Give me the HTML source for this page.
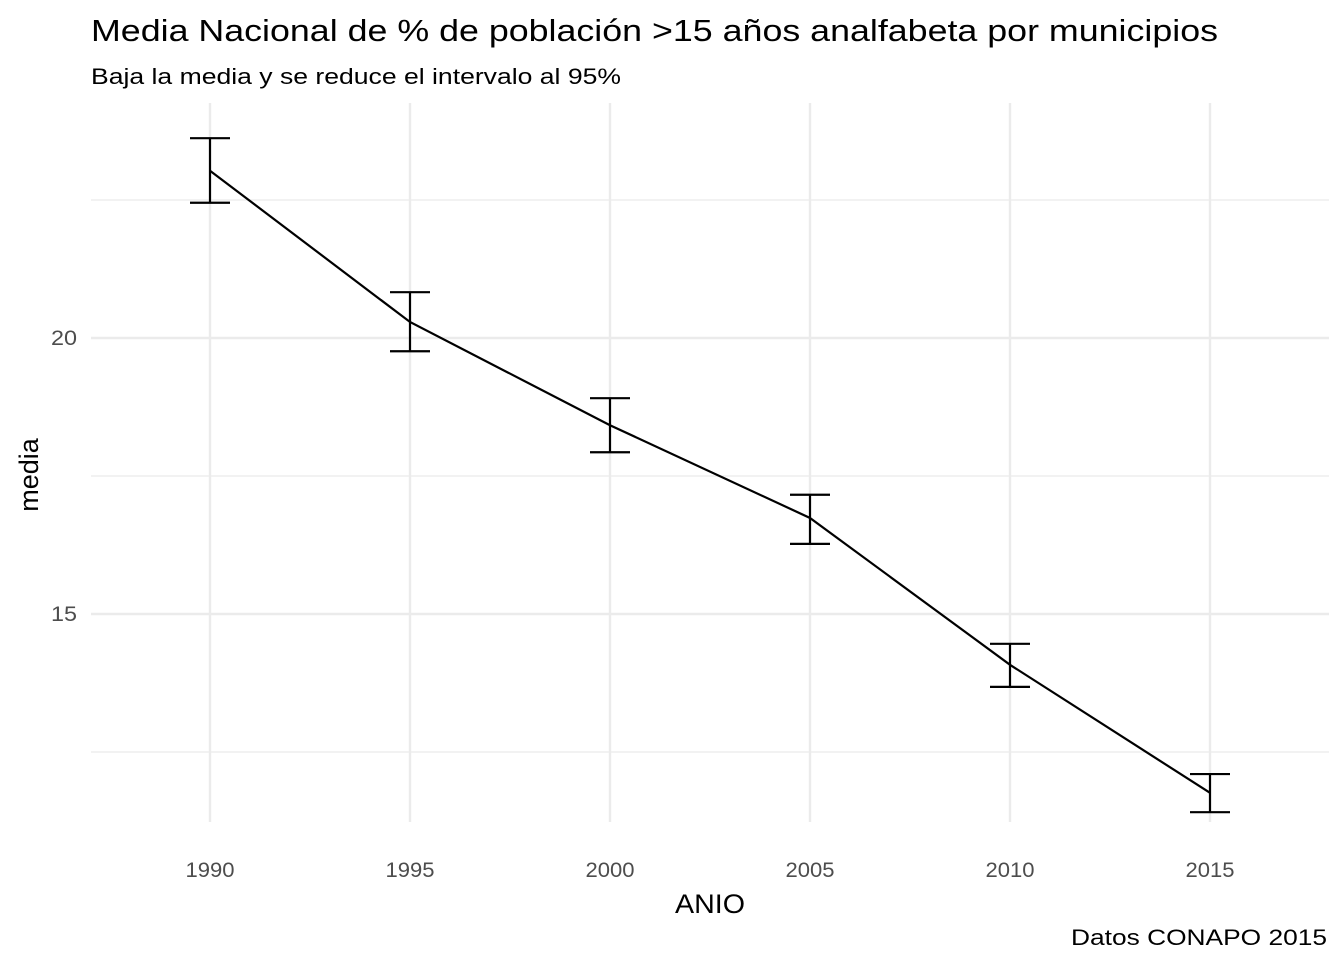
<!DOCTYPE html>
<html><head><meta charset="utf-8">
<style>
body{margin:0;background:#fff;}
svg{display:block;font-family:"Liberation Sans",sans-serif;}
</style></head>
<body>
<svg id="chart" width="1344" height="960">
<text x="91" y="41" font-size="31" textLength="1127" lengthAdjust="spacingAndGlyphs" fill="#000">Media Nacional de % de población &gt;15 años analfabeta por municipios</text>
<text x="91" y="84" font-size="22" textLength="530" lengthAdjust="spacingAndGlyphs" fill="#000">Baja la media y se reduce el intervalo al 95%</text>
<g id="grid"></g>
<g id="marks"></g>
<g id="labels"></g>
<text x="710" y="913" font-size="27" textLength="70" lengthAdjust="spacingAndGlyphs" text-anchor="middle" fill="#000">ANIO</text>
<text transform="translate(38,475) rotate(-90)" font-size="27" text-anchor="middle" fill="#000">media</text>
<text x="1071" y="945" font-size="22" textLength="256" lengthAdjust="spacingAndGlyphs" fill="#000">Datos CONAPO 2015</text>
</svg>
<script>
const years=[1990,1995,2000,2005,2010,2015];
const means=[23.03,20.29,18.42,16.74,14.08,11.76];
const uppers=[23.62,20.83,18.91,17.16,14.46,12.10];
const lowers=[22.45,19.76,17.93,16.27,13.68,11.41];
const yMajor=[15,20];
const yMinor=[12.5,17.5,22.5];

const NS="http://www.w3.org/2000/svg";
const X=v=>210+(v-1990)*40;
const Y=v=>338-(v-20)*55.2;
const L=91,R=1329,T=103,B=822;
function mk(tag,attrs,parent){const e=document.createElementNS(NS,tag);for(const k in attrs)e.setAttribute(k,attrs[k]);document.getElementById(parent).appendChild(e);return e;}

yMinor.forEach(v=>{
  const e=mk('line',{x1:L,x2:R,y1:Y(v),y2:Y(v),stroke:'#ebebeb','stroke-width':1.2},'grid');
  
  
});
yMajor.forEach(v=>{
  const e=mk('line',{x1:L,x2:R,y1:Y(v),y2:Y(v),stroke:'#ebebeb','stroke-width':2.4},'grid');
  
  
  const t=mk('text',{x:77,y:Y(v)+7,'font-size':21,fill:'#4d4d4d','text-anchor':'end',textLength:26,lengthAdjust:'spacingAndGlyphs'},'labels');
  t.textContent=v;
  
  
});
years.forEach(v=>{
  const e=mk('line',{x1:X(v),x2:X(v),y1:T,y2:B,stroke:'#ebebeb','stroke-width':2.4},'grid');
  
  
  const t=mk('text',{x:X(v),y:877,'font-size':21,fill:'#4d4d4d','text-anchor':'middle',textLength:49,lengthAdjust:'spacingAndGlyphs'},'labels');
  t.textContent=v;
  
  
});
const pts=years.map((y,i)=>X(y)+','+Y(means[i])).join(' ');
const line=mk('polyline',{points:pts,fill:'none',stroke:'#000','stroke-width':2.2},'marks');


years.forEach((y,i)=>{
  const x=X(y),u=Y(uppers[i]),l=Y(lowers[i]);
  const p=mk('path',{d:`M${x-20},${u}H${x+20}M${x},${u}V${l}M${x-20},${l}H${x+20}`,fill:'none',stroke:'#000','stroke-width':2.2},'marks');
  
  
});
</script>
</body></html>
